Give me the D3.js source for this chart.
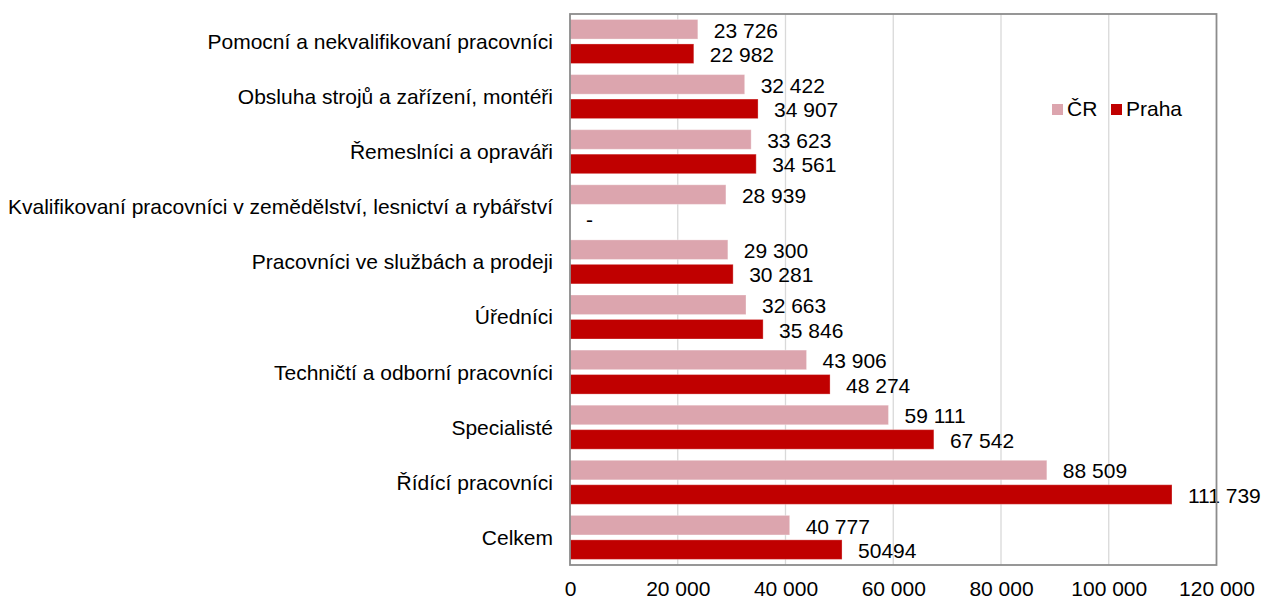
<!DOCTYPE html>
<html>
<head>
<meta charset="UTF-8">
<title>Mzdy podle hlavních tříd zaměstnání</title>
<style>
  body { margin: 0; background: #fff; }
  svg text { font-family: "Liberation Sans", Arial, sans-serif; font-size: 21px; fill: #000; }
</style>
</head>
<body>
<svg id="chart" width="1263" height="599"></svg>
<script src="https://cdn.jsdelivr.net/npm/d3@7"></script>
<script>

// data
var categories = [
  "Pomocní a nekvalifikovaní pracovníci",
  "Obsluha strojů a zařízení, montéři",
  "Řemeslníci a opraváři",
  "Kvalifikovaní pracovníci v zemědělství, lesnictví a rybářství",
  "Pracovníci ve službách a prodeji",
  "Úředníci",
  "Techničtí a odborní pracovníci",
  "Specialisté",
  "Řídící pracovníci",
  "Celkem"
];
var seriesNames = ["ČR", "Praha"];
var crValues = [23726, 32422, 33623, 28939, 29300, 32663, 43906, 59111, 88509, 40777];
var prahaValues = [22982, 34907, 34561, null, 30281, 35846, 48274, 67542, 111739, 50494];
var crLabels = ["23 726", "32 422", "33 623", "28 939", "29 300", "32 663", "43 906", "59 111", "88 509", "40 777"];
var prahaLabels = ["22 982", "34 907", "34 561", "-", "30 281", "35 846", "48 274", "67 542", "111 739", "50494"];
var xTicks = [0, 20000, 40000, 60000, 80000, 100000, 120000];
var colors = ["#dca5ae", "#c00000"];

var svg = d3.select("#chart");
var plotLeft = 570, plotRight = 1216.5, plotTop = 14, plotBottom = 565;

var x = d3.scaleLinear().domain([0, 120000]).range([plotLeft, plotRight]);
var y = d3.scaleBand().domain(categories).range([plotTop, plotBottom]);
var inner = d3.scaleBand().domain(seriesNames).range([5.5, 49.5]).paddingInner(0.2);

// gridlines
svg.append("g")
  .selectAll("line")
  .data(xTicks.slice(1, -1))
  .enter().append("line")
  .attr("x1", function(d) { return x(d); })
  .attr("x2", function(d) { return x(d); })
  .attr("y1", plotTop)
  .attr("y2", plotBottom)
  .style("stroke", "#d9d9d9")
  .style("stroke-width", 1.3);

// rows of bars
var rows = categories.map(function(c, i) {
  return [
    { cat: c, s: "ČR", v: crValues[i], label: crLabels[i], color: colors[0] },
    { cat: c, s: "Praha", v: prahaValues[i], label: prahaLabels[i], color: colors[1] }
  ];
});
var flat = [].concat.apply([], rows);

svg.append("g")
  .selectAll("rect")
  .data(flat.filter(function(d) { return d.v != null; }))
  .enter().append("rect")
  .attr("x", x(0))
  .attr("y", function(d) { return y(d.cat) + inner(d.s); })
  .attr("width", function(d) { return x(d.v) - x(0); })
  .attr("height", inner.bandwidth())
  .style("fill", function(d) { return d.color; })
  .style("stroke", "#fff")
  .style("stroke-opacity", 0.3)
  .style("stroke-width", 1);

// value labels
svg.append("g")
  .selectAll("text")
  .data(flat)
  .enter().append("text")
  .attr("x", function(d) { return x(d.v || 0) + 16; })
  .attr("y", function(d) { return y(d.cat) + inner(d.s) + inner.bandwidth() / 2 + 1; })
  .attr("dy", "0.35em")
  .text(function(d) { return d.label; });

// category labels
svg.append("g")
  .selectAll("text")
  .data(categories)
  .enter().append("text")
  .attr("x", 553)
  .attr("y", function(d) { return y(d) + y.bandwidth() / 2; })
  .attr("dy", "0.35em")
  .attr("text-anchor", "end")
  .text(function(d) { return d; });

// x axis
var xAxis = d3.axisBottom(x)
  .tickValues(xTicks)
  .tickSize(0)
  .tickPadding(16)
  .tickFormat(function(d) { return d3.format(",")(d).replace(/,/g, " "); });
var ax = svg.append("g").attr("transform", "translate(0," + plotBottom + ")").call(xAxis);
ax.select(".domain").remove();
ax.selectAll("text").style("font-size", "21px").style("font-family", "'Liberation Sans', Arial, sans-serif");

// plot frame
svg.append("rect")
  .attr("x", plotLeft)
  .attr("y", plotTop)
  .attr("width", plotRight - plotLeft)
  .attr("height", plotBottom - plotTop)
  .style("fill", "none")
  .style("stroke", "#8c8c8c")
  .style("stroke-width", 1.8);

// legend
var legend = svg.append("g");
var legendX = [1052, 1111];
seriesNames.forEach(function(name, i) {
  legend.append("rect")
    .attr("x", legendX[i])
    .attr("y", 104)
    .attr("width", 11)
    .attr("height", 11)
    .style("fill", colors[i]);
  legend.append("text")
    .attr("x", legendX[i] + 15)
    .attr("y", 116)
    .text(name);
});

</script>
</body>
</html>
